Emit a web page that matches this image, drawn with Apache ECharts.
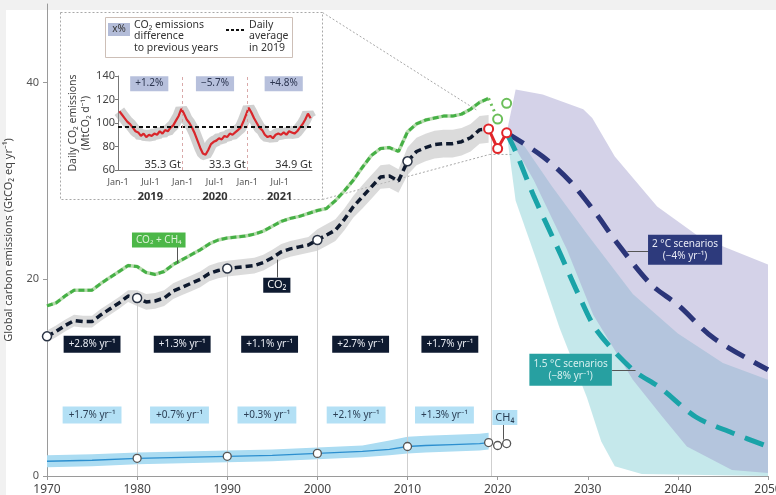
<!DOCTYPE html>
<html>
<head>
<meta charset="utf-8">
<script src="https://cdn.jsdelivr.net/npm/echarts@6/dist/echarts.min.js"></script>
<style>
  html, body { margin: 0; padding: 0; background: #f1f1f1; }
  #main { width: 776px; height: 495px; }
</style>
</head>
<body>
<div id="main"></div>
<script>
// ---- annual history, 1970-2019 (GtCO2 eq per year) ----
var years = [1970,1971,1972,1973,1974,1975,1976,1977,1978,1979,
             1980,1981,1982,1983,1984,1985,1986,1987,1988,1989,
             1990,1991,1992,1993,1994,1995,1996,1997,1998,1999,
             2000,2001,2002,2003,2004,2005,2006,2007,2008,2009,
             2010,2011,2012,2013,2014,2015,2016,2017,2018,2019];
var co2 = [14.2,14.7,15.3,15.8,15.7,15.7,16.4,17.0,17.6,18.3,
           18.1,17.7,17.8,18.1,18.8,19.2,19.6,20.0,20.6,20.9,
           21.1,21.2,21.3,21.4,21.7,22.2,22.8,23.1,23.3,23.5,
           24.0,24.5,25.0,26.1,27.4,28.4,29.4,30.4,30.5,30.0,
           32.0,33.0,33.4,33.7,33.8,33.8,34.0,34.4,35.2,35.3];
var co2Hi = [14.8,15.3,15.9,16.4,16.3,16.3,17.0,17.6,18.2,18.9,
             18.9,18.5,18.6,18.9,19.6,20.0,20.4,20.8,21.4,21.7,
             21.9,22.0,22.1,22.2,22.5,23.0,23.6,23.9,24.1,24.3,
             25.1,25.6,26.1,27.2,28.5,29.6,30.6,31.6,31.7,31.2,
             33.4,34.4,34.8,35.1,35.2,35.2,35.4,35.8,36.6,36.7];
var co2Lo = [13.6,14.1,14.7,15.2,15.1,15.1,15.8,16.4,17.0,17.7,
             17.3,16.9,17.0,17.3,18.0,18.4,18.8,19.2,19.8,20.1,
             20.3,20.4,20.5,20.6,20.9,21.4,22.0,22.3,22.5,22.7,
             22.9,23.4,23.9,25.0,26.3,27.2,28.2,29.2,29.3,28.8,
             30.6,31.6,32.0,32.3,32.4,32.4,32.6,33.0,33.8,33.9];
var ghg = [17.3,17.6,18.3,18.9,18.9,18.9,19.6,20.2,20.8,21.4,
           21.3,20.7,20.5,20.8,21.5,22.0,22.5,23.0,23.6,24.0,
           24.2,24.3,24.4,24.6,24.9,25.4,25.9,26.2,26.4,26.7,
           27.0,27.2,28.0,29.0,30.1,31.4,32.6,33.3,33.4,33.0,
           35.0,35.8,36.2,36.4,36.6,36.6,36.8,37.3,38.0,38.4];

// methane
var ch4Years = [1970,1975,1980,1985,1990,1995,2000,2005,2008,2010,2012,2015,2018,2019];
var ch4 = [1.5,1.6,1.8,1.9,2.0,2.1,2.3,2.5,2.7,3.0,3.1,3.2,3.3,3.4];
var ch4Hi = [2.1,2.2,2.4,2.5,2.6,2.7,2.9,3.1,3.6,4.0,4.1,4.2,4.3,4.4];
var ch4Lo = [0.9,1.0,1.2,1.3,1.4,1.5,1.7,1.9,2.1,2.3,2.4,2.5,2.6,2.7];

// 2019-2021 points
var recentYears = [2019, 2020, 2021];
var recentCo2 = [35.3, 33.3, 34.9];
var recentGhg = [38.4, 36.3, 37.9];
var recentCh4 = [3.4, 3.1, 3.3];
var markYears = [1970, 1980, 1990, 2000, 2010];

// scenarios
var path2CYears = [2021,2025,2028,2031,2033,2037,2040,2044,2050];
var path2C = [34.9,32.5,30.0,26.6,24.0,19.5,17.4,14.0,10.8];
var path15Years = [2021,2022,2024,2027,2029,2031,2035,2038,2042,2046,2050];
var path15 = [34.9,33.0,28.5,22.5,18.4,14.8,10.8,9.0,6.0,4.4,3.0];
var band2CUpYears = [2021,2022,2025,2029.5,2030.5,2033,2037.7,2042.4,2050];
var band2CUp = [34.9,39.3,38.8,37.3,36.4,32.5,27.4,24.3,21.5];
var band2CLoYears = [2021,2024,2027.7,2030.6,2035,2038.3,2041,2046,2050];
var band2CLo = [34.9,30.1,23.0,16.4,9.8,6.0,3.0,0.6,0.3];
var band15UpYears = [2021,2023,2026,2030,2035,2040,2045,2050];
var band15Up = [34.9,33.5,29.5,24.5,18.5,14.5,11.5,9.8];
var band15LoYears = [2021,2022,2024.3,2026.9,2029.9,2031.5,2033,2036,2050];
var band15Lo = [34.9,28.0,22.0,15.0,8.0,3.5,1.0,0.2,0.0];

// growth-rate labels per decade
var co2Rates = ['+2.8% yr⁻¹','+1.3% yr⁻¹','+1.1% yr⁻¹','+2.7% yr⁻¹','+1.7% yr⁻¹'];
var ch4Rates = ['+1.7% yr⁻¹','+0.7% yr⁻¹','+0.3% yr⁻¹','+2.1% yr⁻¹','+1.3% yr⁻¹'];
var co2RateAt = [1975, 1985, 1994.7, 2004.8, 2014.7];
var ch4RateAt = [1975, 1984.7, 1994.4, 2004.3, 2014.1];

// inset: daily CO2 (MtCO2 per day), two values per month, Jan 2019 - Dec 2021
var daily = [110,107,104,101,99,96,93,92,89,91,88,90,89,91,90,93,91,94,93,96,98,102,106,112,
             108,103,100,96,91,85,79,74,73,77,82,84,85,87,86,89,88,91,90,92,94,96,101,107,
             113,109,104,100,96,94,90,88,89,87,90,91,90,92,90,93,92,91,93,96,99,103,108,104];
var avg2019 = 97;
var yearPct = ['+1.2%', '−5.7%', '+4.8%'];
var yearTotals = ['35.3 Gt', '33.3 Gt', '34.9 Gt'];

var FONT = 'Noto Sans';

function valAt(xs, ys, x) { return ys[xs.indexOf(x)]; }

function band(xsUp, up, xsLo, lo, color, z) {
  return {
    type: 'custom', xAxisIndex: 0, yAxisIndex: 0, z: z, silent: true,
    data: [[xsUp[0], up[0]]],
    renderItem: function (params, api) {
      var pts = [];
      for (var i = 0; i < xsUp.length; i++) pts.push(api.coord([xsUp[i], up[i]]));
      for (var j = xsLo.length - 1; j >= 0; j--) pts.push(api.coord([xsLo[j], lo[j]]));
      return { type: 'polygon', shape: { points: pts }, style: { fill: color } };
    }
  };
}

function labels(xi, yi, xs, y, texts, style, z) {
  return {
    type: 'scatter', xAxisIndex: xi, yAxisIndex: yi, symbolSize: 1, silent: true, z: z || 10,
    itemStyle: { color: 'rgba(0,0,0,0)', opacity: 1 },
    data: xs.map(function (x, i) { return [x, Array.isArray(y) ? y[i] : y, texts[i]]; }),
    label: Object.assign({ show: true, position: 'inside', fontFamily: FONT,
      formatter: function (p) { return p.data[2]; } }, style)
  };
}

function pairs(xs, ys) { return xs.map(function (x, i) { return [x, ys[i]]; }); }

var guideYears = [1980, 1990, 2000, 2010];
var guides = guideYears.map(function (y) { return { coords: [[y, valAt(years, co2, y)], [y, 0]] }; });
guides.push({ coords: [[recentYears[0] + 0.3, recentCo2[0]], [recentYears[0] + 0.3, 0]] });

var connectors = [
  { coords: [[1984.4, 23.3], [1984.4, 21.6]] },
  { coords: [[1995.5, 20.2], [1995.5, 22.0]] },
  { coords: [[2020.6, 5.2], [2020.6, 3.7]] },
  { coords: [[2034.4, 22.9], [2036.8, 22.9]] },
  { coords: [[2032.7, 10.8], [2035.3, 10.8]] }
];

var insetData = daily.map(function (v, i) { return [i / 2 + 0.25, v]; });

var chart = echarts.init(document.getElementById('main'));

var option = {
  backgroundColor: '#f1f1f1',
  animation: false,
  textStyle: { fontFamily: FONT },
  grid: [
    { left: 47, right: 8, top: 4, bottom: 19, outerBoundsMode: 'none' },
    { left: 118, top: 76, width: 194, height: 94, outerBoundsMode: 'none' }
  ],
  xAxis: [
    { gridIndex: 0, type: 'value', min: 1970, max: 2050, interval: 10,
      axisLine: { lineStyle: { color: '#9a9a9a' } },
      axisTick: { length: 4, lineStyle: { color: '#9a9a9a' } },
      splitLine: { show: false },
      axisLabel: { fontSize: 12, color: '#444', margin: 8, formatter: function (v) { return String(v); } } },
    { gridIndex: 1, type: 'value', min: 0, max: 36, interval: 6,
      axisLine: { lineStyle: { color: '#777' } },
      axisTick: { show: false }, splitLine: { show: false },
      axisLabel: { fontSize: 9, color: '#555', margin: 5, showMaxLabel: false, lineHeight: 14,
        formatter: function (v) {
          if (v % 12 === 0) return 'Jan-1';
          return 'Jul-1\n{y|' + (2019 + Math.floor(v / 12)) + '}';
        },
        rich: { y: { fontSize: 11, color: '#333', fontWeight: 'bold', padding: [2, 0, 0, 0] } } } }
  ],
  yAxis: [
    { gridIndex: 0, type: 'value', min: 0, max: 48,
      axisLine: { show: true, lineStyle: { color: '#9a9a9a' } },
      axisTick: { show: true, length: 4, customValues: [0, 20, 40], lineStyle: { color: '#9a9a9a' } },
      splitLine: { show: false },
      axisLabel: { fontSize: 11, color: '#555', margin: 8, customValues: [0, 20, 40] },
      name: 'Global carbon emissions (GtCO₂ eq yr⁻¹)', nameLocation: 'middle', nameGap: 33,
      nameTextStyle: { fontSize: 11, color: '#444' } },
    { gridIndex: 1, type: 'value', min: 60, max: 140, interval: 20,
      axisLine: { show: true, lineStyle: { color: '#777' } },
      axisTick: { show: true, length: 3 }, splitLine: { show: false },
      axisLabel: { fontSize: 11, color: '#444', margin: 3 },
      name: 'Daily CO₂ emissions\n(MtCO₂ d⁻¹)', nameLocation: 'middle', nameGap: 24,
      nameTextStyle: { fontSize: 10.5, color: '#444', lineHeight: 13 } }
  ],
  series: [
    band(band15UpYears, band15Up, band15LoYears, band15Lo, 'rgba(140,210,216,0.5)', 1),
    band(band2CUpYears, band2CUp, band2CLoYears, band2CLo, 'rgba(160,155,205,0.45)', 1),
    band(years, co2Hi, years, co2Lo, 'rgba(195,195,195,0.6)', 1),
    band(ch4Years, ch4Hi, ch4Years, ch4Lo, '#abdcf2', 1),
    { type: 'lines', coordinateSystem: 'cartesian2d', xAxisIndex: 0, yAxisIndex: 0, z: 2, silent: true,
      lineStyle: { color: '#cfcfcf', width: 1, opacity: 1 }, data: guides },
    { type: 'line', xAxisIndex: 0, yAxisIndex: 0, z: 3, showSymbol: false, silent: true,
      data: pairs(ch4Years, ch4), lineStyle: { color: '#2d8fcf', width: 1.3 } },
    { type: 'line', xAxisIndex: 0, yAxisIndex: 0, z: 3, showSymbol: false, silent: true,
      data: pairs(years, ghg), lineStyle: { color: 'rgba(175,215,165,0.9)', width: 3.5 } },
    { type: 'line', xAxisIndex: 0, yAxisIndex: 0, z: 4, showSymbol: false, silent: true,
      data: pairs(years, ghg), lineStyle: { color: '#45b045', width: 3, type: [6, 3] } },
    { type: 'line', xAxisIndex: 0, yAxisIndex: 0, z: 4, showSymbol: false, silent: true,
      data: pairs(recentYears.slice(0, 2), recentGhg.slice(0, 2)),
      lineStyle: { color: '#6cbf5a', width: 3, type: [2, 4] } },
    { type: 'scatter', xAxisIndex: 0, yAxisIndex: 0, z: 6, symbolSize: 9, silent: true,
      data: pairs(recentYears.slice(1), recentGhg.slice(1)),
      itemStyle: { color: '#fff', borderColor: '#6cbf5a', borderWidth: 2, opacity: 1 } },
    { type: 'line', xAxisIndex: 0, yAxisIndex: 0, z: 4, showSymbol: false, silent: true,
      data: pairs(years, co2), lineStyle: { color: '#0f1a2e', width: 3.5, type: [7, 4] } },
    { type: 'scatter', xAxisIndex: 0, yAxisIndex: 0, z: 6, symbolSize: 9, silent: true,
      data: markYears.map(function (y) { return [y, valAt(years, co2, y)]; }),
      itemStyle: { color: '#fff', borderColor: '#2a3344', borderWidth: 1.5, opacity: 1 } },
    { type: 'scatter', xAxisIndex: 0, yAxisIndex: 0, z: 6, symbolSize: 8, silent: true,
      data: guideYears.map(function (y) { return [y, valAt(ch4Years, ch4, y)]; })
        .concat(pairs(recentYears, recentCh4)),
      itemStyle: { color: '#fff', borderColor: '#555', borderWidth: 1.3, opacity: 1 } },
    { type: 'line', xAxisIndex: 0, yAxisIndex: 0, z: 7, silent: true,
      data: pairs(recentYears, recentCo2), symbol: 'circle', symbolSize: 9,
      lineStyle: { color: '#e1262a', width: 3 },
      itemStyle: { color: '#fff', borderColor: '#e1262a', borderWidth: 2 } },
    { type: 'line', xAxisIndex: 0, yAxisIndex: 0, z: 5, showSymbol: false, silent: true, smooth: 0.3,
      data: pairs(path2CYears, path2C), lineStyle: { color: '#2b3579', width: 5, type: [20, 11] } },
    { type: 'line', xAxisIndex: 0, yAxisIndex: 0, z: 5, showSymbol: false, silent: true, smooth: 0.3,
      data: pairs(path15Years, path15), lineStyle: { color: '#1aa3a8', width: 5, type: [20, 11] } },
    { type: 'lines', coordinateSystem: 'cartesian2d', xAxisIndex: 0, yAxisIndex: 0, z: 8, silent: true,
      lineStyle: { color: '#555', width: 1, opacity: 1 }, data: connectors },
    labels(0, 0, co2RateAt, 13.4, co2Rates,
      { backgroundColor: '#0e1a30', color: '#e8ebf2', fontSize: 10, padding: [4, 5, 3, 5] }),
    labels(0, 0, ch4RateAt, 6.2, ch4Rates,
      { backgroundColor: '#b3e0f5', color: '#2b3f55', fontSize: 10, padding: [4, 6, 3, 6] }),
    labels(0, 0, [1982.4], 24.0, ['CO₂ + CH₄'],
      { backgroundColor: '#4cb748', color: '#dcf1d6', fontSize: 10, padding: [3, 4, 2, 4] }),
    labels(0, 0, [1995.5], 19.4, ['CO₂'],
      { backgroundColor: '#0e1a30', color: '#f2f2f2', fontSize: 11, padding: [2, 4, 2, 4] }),
    labels(0, 0, [2020.8], 5.95, ['CH₄'],
      { backgroundColor: '#b3e0f5', color: '#2b3f55', fontSize: 11, padding: [2, 3, 2, 3] }),
    labels(0, 0, [2040.8], 23.0, ['2 °C scenarios\n(−4% yr⁻¹)'],
      { backgroundColor: '#2d3a7c', color: '#e8eaf5', fontSize: 10, lineHeight: 12,
        align: 'center', padding: [3, 4, 3, 4] }),
    labels(0, 0, [2028.1], 10.8, ['1.5 °C scenarios\n(−8% yr⁻¹)'],
      { backgroundColor: '#27a0a1', color: '#d5efef', fontSize: 10, lineHeight: 12,
        padding: [4, 4, 4, 4] }),
    // inset
    { type: 'line', xAxisIndex: 1, yAxisIndex: 1, z: 3, showSymbol: false, silent: true,
      data: insetData, lineStyle: { color: 'rgba(150,150,150,0.45)', width: 12 } },
    { type: 'line', xAxisIndex: 1, yAxisIndex: 1, z: 4, showSymbol: false, silent: true,
      data: insetData, lineStyle: { color: '#d9262b', width: 2.2 },
      markLine: { symbol: 'none', silent: true, label: { show: false },
        data: [
          { yAxis: avg2019, lineStyle: { color: '#111', type: [4, 3], width: 1.8 } },
          { xAxis: 12, lineStyle: { color: '#d9a9a9', type: [3, 3], width: 1 } },
          { xAxis: 24, lineStyle: { color: '#d9a9a9', type: [3, 3], width: 1 } }
        ] } },
    labels(1, 1, [5.8, 18, 30.75], 133.5, yearPct,
      { backgroundColor: '#b7c0dc', color: '#2c3550', fontSize: 10, padding: [3, 5, 2, 5] }),
    labels(1, 1, [8.3, 20.3, 32.6], 64.5, yearTotals, { color: '#333', fontSize: 11 })
  ]
};

chart.setOption(option);

// decoration: page, inset panel, legend and zoom connectors
var pTop = chart.convertToPixel({ gridIndex: 0 }, [2017.7, 37.2]);
var pBot = chart.convertToPixel({ gridIndex: 0 }, [2019.1, 32.7]);
var pEnd = chart.convertToPixel({ gridIndex: 0 }, [2021.6, 32.7]);
var dash = { stroke: '#a8a8a8', lineWidth: 1, lineDash: [2, 2], fill: null };

chart.setOption({
  graphic: [
    { type: 'rect', z: -10, silent: true, shape: { x: 6, y: 10, width: 770, height: 485 }, style: { fill: '#fff' } },
    { type: 'rect', z: -5, silent: true, shape: { x: 60.5, y: 12.5, width: 262, height: 187 },
      style: { fill: '#fff', stroke: '#a8a8a8', lineWidth: 1, lineDash: [2, 2] } },
    { type: 'line', z: -5, silent: true, shape: { x1: 322.5, y1: 12.5, x2: pTop[0], y2: pTop[1] }, style: dash },
    { type: 'line', z: -5, silent: true, shape: { x1: 322.5, y1: 199.5, x2: pBot[0], y2: pBot[1] }, style: dash },
    { type: 'line', z: -5, silent: true, shape: { x1: pBot[0], y1: pBot[1], x2: pEnd[0], y2: pEnd[1] }, style: dash },
    { type: 'rect', z: 1, silent: true, shape: { x: 105.5, y: 17.5, width: 187, height: 40 },
      style: { fill: '#fff', stroke: '#cdbfb7', lineWidth: 1 } },
    { type: 'rect', z: 2, silent: true, shape: { x: 108, y: 23, width: 22, height: 13 }, style: { fill: '#b3bcd8' } },
    { type: 'text', z: 3, silent: true, x: 119, y: 29.5,
      style: { text: 'x%', fontSize: 10, fill: '#333', align: 'center', verticalAlign: 'middle', fontFamily: FONT } },
    { type: 'text', z: 3, silent: true, x: 134, y: 19,
      style: { text: 'CO₂ emissions\ndifference\nto previous years', fontSize: 10.5, lineHeight: 11.5,
        fill: '#333', fontFamily: FONT } },
    { type: 'line', z: 3, silent: true, shape: { x1: 226, y1: 30, x2: 245, y2: 30 },
      style: { stroke: '#111', lineWidth: 2, lineDash: [3, 2] } },
    { type: 'text', z: 3, silent: true, x: 249, y: 19,
      style: { text: 'Daily\naverage\nin 2019', fontSize: 10.5, lineHeight: 11.5, fill: '#333', fontFamily: FONT } }
  ]
});
</script>
</body>
</html>
